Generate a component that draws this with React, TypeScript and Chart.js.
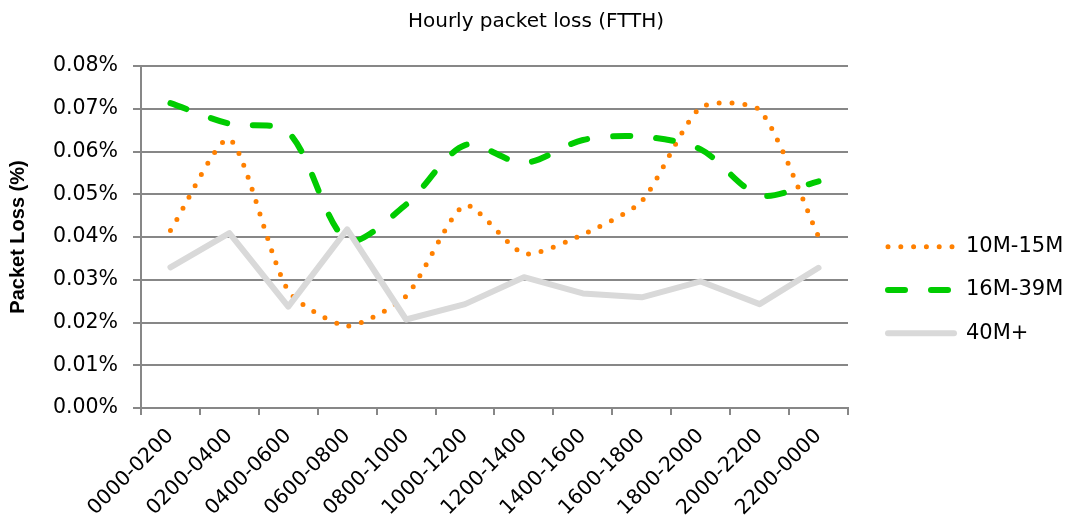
import React, { useEffect, useRef } from "react";
import { Chart, registerables } from "chart.js";

Chart.register(...registerables);

const categories = [
  "0000-0200", "0200-0400", "0400-0600", "0600-0800", "0800-1000", "1000-1200",
  "1200-1400", "1400-1600", "1600-1800", "1800-2000", "2000-2200", "2200-0000",
];
const seriesNames = ["10M-15M", "16M-39M", "40M+"];
const loss10to15 = [0.0415, 0.0629, 0.0274, 0.0192, 0.0262, 0.0474, 0.0361, 0.0406, 0.0484, 0.0703, 0.0697, 0.0401];
const loss16to39 = [0.0713, 0.0665, 0.0645, 0.0393, 0.0476, 0.0615, 0.0573, 0.0627, 0.0635, 0.0605, 0.0498, 0.053];
const loss40plus = [0.0329, 0.0409, 0.0237, 0.0418, 0.0207, 0.0243, 0.0306, 0.0268, 0.0259, 0.0296, 0.0243, 0.0328];
const yTicks = [0, 0.01, 0.02, 0.03, 0.04, 0.05, 0.06, 0.07, 0.08];

const GRID = "#878787";
const TICK_FONT = "'DejaVu Sans', sans-serif";

const sideLegend = {
  id: "sideLegend",
  afterDraw(chart: any) {
    const ctx = chart.ctx;
    const x0 = 880;
    const x1 = 946;
    const textX = 958;
    const top = 238.7;
    const gap = 43.3;
    chart.data.datasets.forEach((ds: any, i: number) => {
      const y = top + i * gap;
      ctx.save();
      ctx.strokeStyle = ds.borderColor;
      ctx.lineWidth = ds.borderWidth;
      ctx.lineCap = "round";
      ctx.setLineDash(ds.borderDash || []);
      ctx.beginPath();
      ctx.moveTo(x0, y);
      ctx.lineTo(x1, y);
      ctx.stroke();
      ctx.restore();
      ctx.save();
      ctx.fillStyle = "#000";
      ctx.font = `21px ${TICK_FONT}`;
      ctx.textBaseline = "middle";
      ctx.textAlign = "left";
      ctx.fillText(ds.label, textX, y);
      ctx.restore();
    });
  },
};

export default function App() {
  const ref = useRef<HTMLCanvasElement | null>(null);
  useEffect(() => {
    if (!ref.current) return;
    const chart = new Chart(ref.current, {
      type: "line",
      data: {
        labels: categories,
        datasets: [
          {
            label: seriesNames[0],
            data: loss10to15,
            borderColor: "#FF8000",
            borderWidth: 5,
            borderDash: [0, 12.8],
            borderCapStyle: "round",
            tension: 0.22,
            pointRadius: 0,
            order: 3,
          },
          {
            label: seriesNames[1],
            data: loss16to39,
            borderColor: "#00CC00",
            borderWidth: 6,
            borderDash: [17, 26],
            borderCapStyle: "round",
            tension: 0.3,
            pointRadius: 0,
            order: 2,
          },
          {
            label: seriesNames[2],
            data: loss40plus,
            borderColor: "#D9D9D9",
            borderWidth: 6,
            borderCapStyle: "round",
            borderJoinStyle: "round",
            tension: 0,
            pointRadius: 0,
            order: 1,
          },
        ],
      },
      options: {
        animation: false,
        responsive: true,
        maintainAspectRatio: false,
        layout: { padding: 0 },
        plugins: {
          legend: { display: false },
          tooltip: { enabled: false },
          title: {
            display: true,
            text: "Hourly packet loss (FTTH)",
            color: "#000",
            font: { family: TICK_FONT, size: 20, weight: "normal", lineHeight: 1.2 },
            padding: { top: 2, bottom: 32 },
          },
        },
        scales: {
          x: {
            offset: true,
            grid: {
              offset: true,
              drawOnChartArea: false,
              drawTicks: true,
              tickLength: 7,
              color: GRID,
              lineWidth: 2,
            },
            border: { display: true, color: GRID, width: 2 },
            ticks: {
              color: "#000",
              font: { family: TICK_FONT, size: 20.5 },
              maxRotation: 45,
              minRotation: 45,
              autoSkip: false,
              padding: 9,
            },
            afterFit: (scale: any) => {
              scale.height = 111;
            },
          },
          y: {
            min: 0,
            max: 0.08,
            afterBuildTicks: (scale: any) => {
              scale.ticks = yTicks.map((v) => ({ value: v }));
            },
            grid: { color: GRID, lineWidth: 2, tickLength: 8 },
            border: { display: true, color: GRID, width: 2 },
            ticks: {
              color: "#000",
              font: { family: TICK_FONT, size: 20.5 },
              padding: 15,
              callback: (v: any) => Number(v).toFixed(2) + "%",
            },
            title: {
              display: true,
              text: "Packet Loss (%)",
              color: "#000",
              font: { family: "'Liberation Sans', Arial, sans-serif", size: 20, weight: "bold", lineHeight: 1 },
              padding: { top: 0, bottom: 0 },
            },
            afterFit: (scale: any) => {
              scale.width = 133;
            },
          },
          legendSpace: {
            type: "linear",
            position: "right",
            display: true,
            grid: { display: false, drawTicks: false },
            border: { display: false },
            ticks: { display: false },
            afterFit: (scale: any) => {
              scale.width = 216;
            },
          },
        },
      },
      plugins: [sideLegend],
    });
    return () => chart.destroy();
  }, []);
  return (
    <div style={{ width: 1056, height: 511, position: "relative" }}>
      <canvas ref={ref} />
    </div>
  );
}
